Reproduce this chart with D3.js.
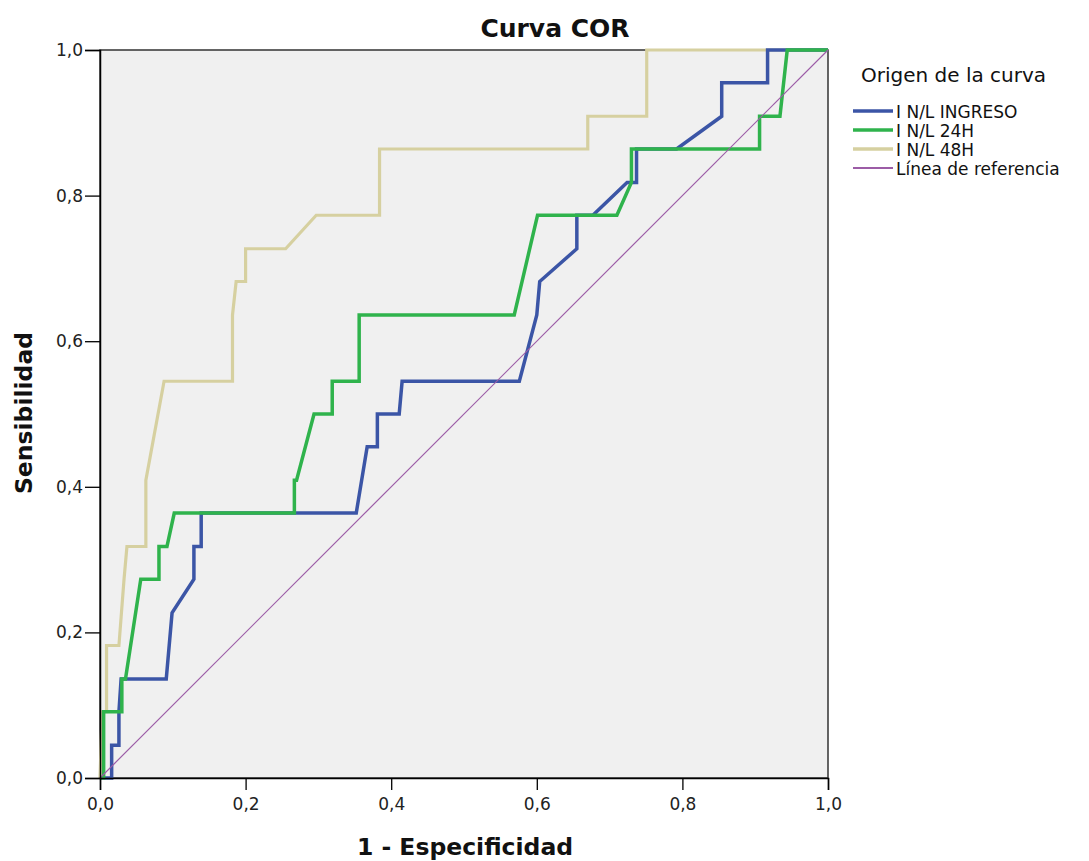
<!DOCTYPE html>
<html>
<head>
<meta charset="utf-8">
<script src="https://cdn.jsdelivr.net/npm/d3@7"></script>
<style>
  body { margin: 0; background: #fff; }
  text { font-family: "DejaVu Sans", sans-serif; fill: #111; }
</style>
</head>
<body>
<div id="chart"></div>
<script>
// tick values shared by both axes
var axisTicks = [0, 0.2, 0.4, 0.6, 0.8, 1.0];

// curve points (1 - specificity, sensitivity)
var ingresoFpr = [0, 0.016, 0.016, 0.026, 0.026, 0.029, 0.091, 0.099, 0.129, 0.129, 0.139, 0.139, 0.352, 0.367, 0.381, 0.381, 0.411, 0.415, 0.576, 0.600, 0.604, 0.655, 0.655, 0.677, 0.724, 0.737, 0.737, 0.792, 0.854, 0.854, 0.917, 0.917, 1];
var ingresoTpr = [0, 0, 0.045, 0.045, 0.091, 0.136, 0.136, 0.227, 0.273, 0.318, 0.318, 0.364, 0.364, 0.455, 0.455, 0.500, 0.500, 0.545, 0.545, 0.636, 0.682, 0.727, 0.773, 0.773, 0.818, 0.818, 0.864, 0.864, 0.909, 0.955, 0.955, 1, 1];

var h24Fpr = [0, 0.005, 0.005, 0.030, 0.030, 0.035, 0.056, 0.081, 0.081, 0.092, 0.102, 0.267, 0.267, 0.270, 0.294, 0.319, 0.319, 0.356, 0.356, 0.569, 0.601, 0.710, 0.730, 0.730, 0.906, 0.906, 0.934, 0.944, 1];
var h24Tpr = [0, 0, 0.091, 0.091, 0.136, 0.136, 0.273, 0.273, 0.318, 0.318, 0.364, 0.364, 0.409, 0.409, 0.500, 0.500, 0.545, 0.545, 0.636, 0.636, 0.773, 0.773, 0.818, 0.864, 0.864, 0.909, 0.909, 1, 1];

var h48Fpr = [0, 0.003, 0.009, 0.009, 0.026, 0.033, 0.037, 0.063, 0.063, 0.088, 0.182, 0.182, 0.187, 0.200, 0.200, 0.255, 0.297, 0.384, 0.384, 0.670, 0.670, 0.751, 0.751, 1];
var h48Tpr = [0, 0.091, 0.091, 0.182, 0.182, 0.273, 0.318, 0.318, 0.409, 0.545, 0.545, 0.636, 0.682, 0.682, 0.727, 0.727, 0.773, 0.773, 0.864, 0.864, 0.909, 0.909, 1, 1];

var refFpr = [0, 1];
var refTpr = [0, 1];

var seriesNames = ['I N/L INGRESO', 'I N/L 24H', 'I N/L 48H', 'Línea de referencia'];
var seriesColors = ['#3b55a6', '#2fb34c', '#d6d0a0', '#9c5ca6'];
var seriesWidths = [3.5, 3.5, 3.2, 1.2];

var width = 1089,
    height = 861;

var plot = { left: 100, top: 50, right: 828, bottom: 778 };

var x = d3.scaleLinear().domain([0, 1]).range([plot.left, plot.right]);
var y = d3.scaleLinear().domain([0, 1]).range([plot.bottom, plot.top]);

var fmt = function(d) { return d3.format('.1f')(d).replace('.', ','); };

var svg = d3.select('#chart').append('svg')
  .attr('width', width)
  .attr('height', height);

// plot background + frame
svg.append('rect')
  .attr('x', plot.left).attr('y', plot.top)
  .attr('width', plot.right - plot.left)
  .attr('height', plot.bottom - plot.top)
  .style('fill', '#f0f0f0')
  .style('stroke', '#333')
  .style('stroke-width', 1.5);

var line = d3.line()
  .x(function(d) { return x(d[0]); })
  .y(function(d) { return y(d[1]); });

function pts(xs, ys) { return xs.map(function(v, i) { return [v, ys[i]]; }); }

var curves = [
  { data: pts(h48Fpr, h48Tpr), i: 2 },
  { data: pts(ingresoFpr, ingresoTpr), i: 0 },
  { data: pts(h24Fpr, h24Tpr), i: 1 },
  { data: pts(refFpr, refTpr), i: 3 }
];

svg.append('g').selectAll('path')
  .data(curves)
  .enter().append('path')
  .attr('d', function(d) { return line(d.data); })
  .style('fill', 'none')
  .style('stroke', function(d) { return seriesColors[d.i]; })
  .style('stroke-width', function(d) { return seriesWidths[d.i]; })
  .style('stroke-linejoin', 'miter');

// axes
var xAxis = svg.append('g')
  .attr('transform', 'translate(0,' + plot.bottom + ')')
  .call(d3.axisBottom(x).tickValues(axisTicks).tickFormat(fmt).tickSizeOuter(0).tickSize(12).tickPadding(8));

var yAxis = svg.append('g')
  .attr('transform', 'translate(' + plot.left + ',0)')
  .call(d3.axisLeft(y).tickValues(axisTicks).tickFormat(fmt).tickSizeOuter(0).tickSize(15).tickPadding(2));

[xAxis, yAxis].forEach(function(a) {
  a.select('.domain').style('stroke', '#000').style('stroke-width', 1.5);
  a.selectAll('.tick line').style('stroke', '#000').style('stroke-width', 1.3);
  a.selectAll('.tick text')
    .style('font-family', '"DejaVu Sans", sans-serif')
    .style('font-size', '17px')
    .style('fill', '#222');
});

// titles
svg.append('text')
  .attr('x', 555).attr('y', 37)
  .attr('text-anchor', 'middle')
  .style('font-size', '25px').style('font-weight', 'bold')
  .text('Curva COR');

svg.append('text')
  .attr('x', 465).attr('y', 855)
  .attr('text-anchor', 'middle')
  .style('font-size', '23.5px').style('font-weight', 'bold')
  .text('1 - Especificidad');

svg.append('text')
  .attr('transform', 'translate(32,413) rotate(-90)')
  .attr('text-anchor', 'middle')
  .style('font-size', '23.5px').style('font-weight', 'bold')
  .text('Sensibilidad');

// legend
var legend = svg.append('g').attr('transform', 'translate(853,0)');

legend.append('text')
  .attr('x', 8).attr('y', 82)
  .style('font-size', '20px')
  .text('Origen de la curva');

var item = legend.selectAll('.item')
  .data(seriesNames)
  .enter().append('g')
  .attr('class', 'item')
  .attr('transform', function(d, i) { return 'translate(0,' + (111 + i * 19) + ')'; });

item.append('line')
  .attr('x1', 0).attr('x2', 40)
  .style('stroke', function(d, i) { return seriesColors[i]; })
  .style('stroke-width', function(d, i) { return i < 3 ? 3.5 : 2; });

item.append('text')
  .attr('x', 43).attr('y', 6.5)
  .style('font-size', '17px')
  .text(function(d) { return d; });
</script>
</body>
</html>
